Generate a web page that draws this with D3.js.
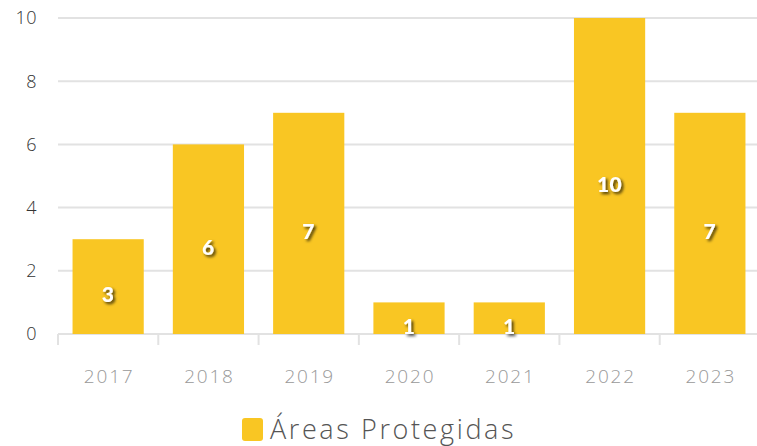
<!DOCTYPE html>
<html>
<head>
<meta charset="utf-8">
<script src="https://cdn.jsdelivr.net/npm/d3@7"></script>
<style>
  body { margin: 0; background: #fff; }
  svg { display: block; font-family: "Open Sans", "Lato", sans-serif; }
</style>
</head>
<body>
<main></main>
<script>
const years = ["2017", "2018", "2019", "2020", "2021", "2022", "2023"];
const areas = [3, 6, 7, 1, 1, 10, 7];
const yTicks = [0, 2, 4, 6, 8, 10];
const seriesName = "Áreas Protegidas";

const width = 757, height = 446;
const barColour = "#f9c623";

let svg = d3.select("main").append("svg").attr("width", width).attr("height", height);

let defs = svg.append("defs");
let shadow = defs.append("filter").attr("id", "shadow")
    .attr("x", "-50%").attr("y", "-50%").attr("width", "200%").attr("height", "200%");
shadow.append("feDropShadow")
    .attr("dx", 2).attr("dy", 2).attr("stdDeviation", 1.6)
    .attr("flood-color", "#000").attr("flood-opacity", 0.75);

let x = d3.scaleBand()
    .domain(years)
    .range([58, 760])
    .paddingInner(0.29)
    .paddingOuter(0.145);

let y = d3.scaleLinear()
    .domain([0, 10])
    .range([334, 18]);

// grid lines
svg.append("g")
   .selectAll("line")
   .data(yTicks)
   .enter()
   .append("line")
   .attr("x1", 58)
   .attr("x2", width)
   .attr("y1", d => y(d))
   .attr("y2", d => y(d))
   .attr("stroke", "#e2e2e2")
   .attr("stroke-width", 2);

// y labels
svg.append("g")
   .selectAll("text")
   .data(yTicks)
   .enter()
   .append("text")
   .attr("x", 37)
   .attr("y", d => y(d))
   .attr("dy", "0.36em")
   .attr("text-anchor", "end")
   .attr("font-size", "18px")
   .attr("font-weight", 300)
   .attr("letter-spacing", "0.5px")
   .attr("fill", "#333")
   .text(d => d);

// category boundary ticks
let step = x.step();
let bounds = years.map((d, i) => 58 + i * step).concat([58 + years.length * step]);
svg.append("g")
   .selectAll("line")
   .data(bounds)
   .enter()
   .append("line")
   .attr("x1", d => d)
   .attr("x2", d => d)
   .attr("y1", y(0))
   .attr("y2", y(0) + 11)
   .attr("stroke", "#e2e2e2")
   .attr("stroke-width", 2);

// bars
svg.append("g")
   .selectAll("rect")
   .data(years)
   .enter()
   .append("rect")
   .attr("x", d => x(d))
   .attr("width", x.bandwidth())
   .attr("y", (d, i) => y(areas[i]))
   .attr("height", (d, i) => y(0) - y(areas[i]))
   .attr("fill", barColour);

// value labels
svg.append("g")
   .selectAll("text")
   .data(years)
   .enter()
   .append("text")
   .attr("x", d => x(d) + x.bandwidth() / 2)
   .attr("y", (d, i) => (y(areas[i]) + y(0)) / 2 + 8)
   .attr("dy", "0.36em")
   .attr("text-anchor", "middle")
   .attr("font-family", "Lato, sans-serif")
   .attr("font-size", "21px")
   .attr("font-weight", 900)
   .attr("letter-spacing", "0.5px")
   .attr("fill", "#fff")
   .attr("filter", "url(#shadow)")
   .text((d, i) => areas[i]);

// x labels
svg.append("g")
   .selectAll("text")
   .data(years)
   .enter()
   .append("text")
   .attr("x", d => x(d) + x.bandwidth() / 2 + 1)
   .attr("y", 376)
   .attr("dy", "0.36em")
   .attr("text-anchor", "middle")
   .attr("font-size", "19px")
   .attr("font-weight", 300)
   .attr("letter-spacing", "1.8px")
   .attr("fill", "#999")
   .text(d => d);

// legend
let legend = svg.append("g").attr("id", "legend");
legend.append("rect")
   .attr("x", 242)
   .attr("y", 418)
   .attr("width", 21)
   .attr("height", 23)
   .attr("rx", 3)
   .attr("fill", barColour);
legend.append("text")
   .attr("x", 270)
   .attr("y", 439)
   .attr("font-size", "27px")
   .attr("font-weight", 300)
   .attr("letter-spacing", "2.6px")
   .attr("fill", "#555")
   .text(seriesName);
</script>
</body>
</html>
